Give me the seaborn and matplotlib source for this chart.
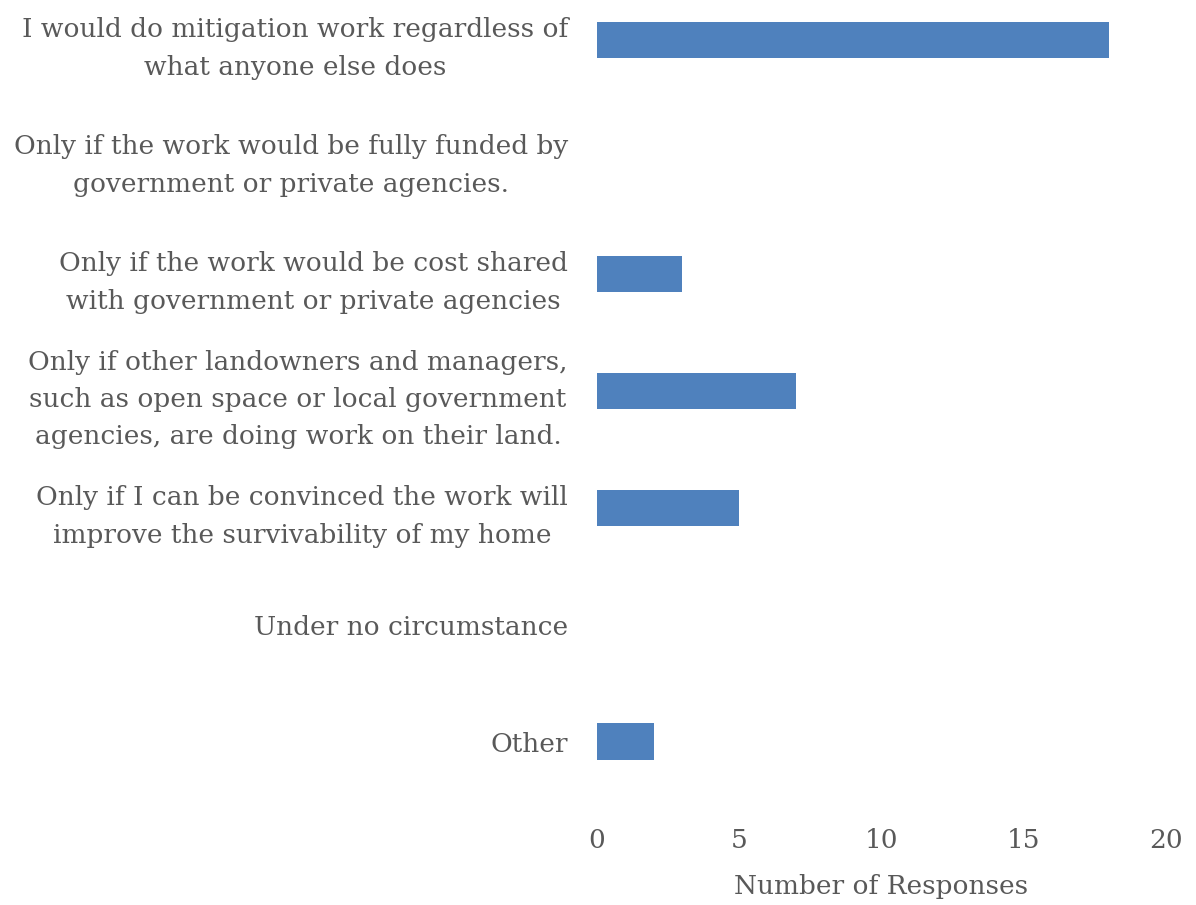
import matplotlib
matplotlib.use("Agg")
import matplotlib.pyplot as plt
import seaborn as sns
import pandas as pd

categories = [
    "I would do mitigation work regardless of\nwhat anyone else does",
    "Only if the work would be fully funded by\ngovernment or private agencies.",
    "Only if the work would be cost shared\nwith government or private agencies",
    "Only if other landowners and managers,\nsuch as open space or local government\nagencies, are doing work on their land.",
    "Only if I can be convinced the work will\nimprove the survivability of my home",
    "Under no circumstance",
    "Other",
]
responses = [18, 0, 3, 7, 5, 0, 2]
x_ticks = [0, 5, 10, 15, 20]

sns.set_theme(style="white")
plt.rcParams["font.family"] = ["DejaVu Serif", "Liberation Serif"]
text_color = "#595959"

df = pd.DataFrame({"category": categories, "responses": responses})

fig = plt.figure(figsize=(11.96, 9.05), dpi=100)
ax = fig.add_axes([597 / 1196, 1 - 800 / 905, (1166 - 597) / 1196, 800 / 905])

sns.barplot(data=df, x="responses", y="category", color="#4F81BD",
            saturation=1, width=0.31, linewidth=0, ax=ax, orient="h")

ax.set_xlim(0, 20)
ax.set_ylim(6.5, -0.5 + 18.5 / 117)
ax.set_xticks(x_ticks)
ax.set_xticklabels([str(t) for t in x_ticks])
for s in ax.spines.values():
    s.set_visible(False)
ax.tick_params(axis="both", length=0, colors=text_color, labelsize=19)
ax.tick_params(axis="x", pad=20)
ax.tick_params(axis="y", pad=21)
for lbl in ax.get_yticklabels():
    lbl.set_multialignment("center")
    lbl.set_linespacing(1.62)
ax.set_ylabel("")
ax.set_xlabel("Number of Responses", fontsize=19, color=text_color, labelpad=15)

fig.savefig("out.png", dpi=100)
